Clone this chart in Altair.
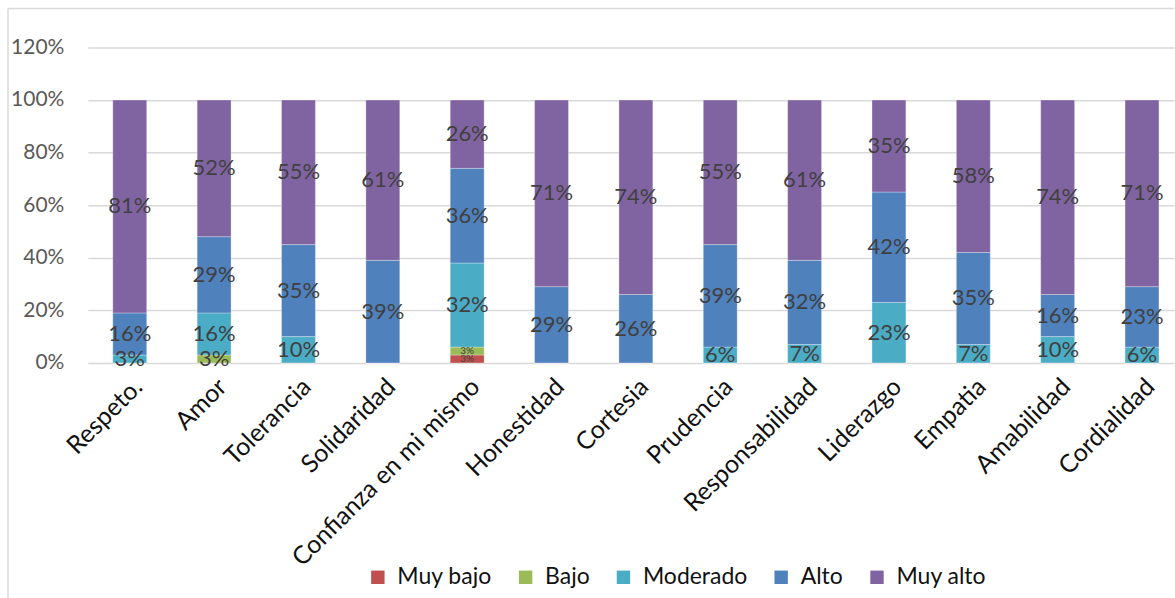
import altair as alt
import pandas as pd

# Values (percent) per category and level
categories = ["Respeto.", "Amor", "Tolerancia", "Solidaridad", "Confianza en mi mismo",
              "Honestidad", "Cortesia", "Prudencia", "Responsabilidad", "Liderazgo",
              "Empatia", "Amabilidad", "Cordialidad"]
muy_bajo = [0, 0, 0, 0, 3, 0, 0, 0, 0, 0, 0, 0, 0]
bajo = [0, 3, 0, 0, 3, 0, 0, 0, 0, 0, 0, 0, 0]
moderado = [3, 16, 10, 0, 32, 0, 0, 6, 7, 23, 7, 10, 6]
alto = [16, 29, 35, 39, 36, 29, 26, 39, 32, 42, 35, 16, 23]
muy_alto = [81, 52, 55, 61, 26, 71, 74, 55, 61, 35, 58, 74, 71]

levels = ["Muy bajo", "Bajo", "Moderado", "Alto", "Muy alto"]
colors = ["#C0504D", "#9BBB59", "#4BACC6", "#4F81BD", "#8064A2"]
y_ticks = [0, 0.2, 0.4, 0.6, 0.8, 1.0, 1.2]

rows = []
for ord_i, (lvl, vals) in enumerate(zip(levels, [muy_bajo, bajo, moderado, alto, muy_alto])):
    for cat, v in zip(categories, vals):
        rows.append({"cat": cat, "serie": lvl, "value": v / 100, "ord": ord_i})
df = pd.DataFrame(rows)

FONT = "Lato"

x_enc = alt.X("cat:N", sort=categories, title=None,
              scale=alt.Scale(paddingInner=0.598, paddingOuter=0.237, align=0.624),
              axis=alt.Axis(labelAngle=-45, labelFontSize=25, labelColor="#111111",
                            labelFont=FONT, domain=False, ticks=False, labelPadding=11,
                            labelLimit=0, grid=False))

bars = alt.Chart(df).mark_bar(stroke="#ffffff", strokeWidth=0.6, strokeOpacity=0.5).encode(
    x=x_enc,
    y=alt.Y("value:Q", stack="zero", title=None,
            scale=alt.Scale(domain=[0, 1.2], nice=False),
            axis=alt.Axis(values=y_ticks, format=".0%", labelFontSize=21,
                          labelColor="#595959", labelFont=FONT, domain=False,
                          ticks=False, labelPadding=24, gridColor="#D9D9D9",
                          gridWidth=1.5)),
    color=alt.Color("serie:N", sort=levels,
                    scale=alt.Scale(domain=levels, range=colors),
                    legend=alt.Legend(orient="none", legendX=279, legendY=519,
                                      direction="horizontal", title=None,
                                      symbolType="square", symbolSize=180,
                                      symbolStrokeWidth=0, labelFontSize=23,
                                      labelFont=FONT, labelColor="#111111",
                                      labelOffset=8, columnPadding=22)),
    order=alt.Order("ord:Q", sort="ascending"),
)

labels = alt.Chart(df).transform_filter(
    alt.datum.value > 0
).transform_stack(
    stack="value", groupby=["cat"], sort=[alt.SortField("ord", "ascending")],
    as_=["v0", "v1"]
).transform_calculate(
    mid="(datum.v0 + datum.v1) / 2"
).mark_text(font=FONT, color="#404040", baseline="middle", align="center").encode(
    x=alt.X("cat:N", sort=categories),
    y=alt.Y("mid:Q"),
    text=alt.Text("value:Q", format=".0%"),
    size=alt.condition(
        "datum.cat == 'Confianza en mi mismo' && datum.value < 0.05",
        alt.value(10), alt.value(22)),
)

# light frame around the chart area
frame_top = alt.Chart().mark_rule(color="#D9D9D9", strokeWidth=1.5).encode(
    x=alt.value(-80), x2=alt.value(1088), y=alt.value(-39))
frame_left = alt.Chart().mark_rule(color="#D9D9D9", strokeWidth=1.5).encode(
    x=alt.value(-80), y=alt.value(-39), y2=alt.value(552))

chart = alt.layer(bars, labels, frame_top, frame_left).properties(
    width=1088, height=316,
    padding={"left": 7, "top": 7, "right": 0, "bottom": 0},
    background="#ffffff",
).configure_view(stroke=None)

chart.save("out.html", embed_options={"renderer": "svg", "actions": False})
